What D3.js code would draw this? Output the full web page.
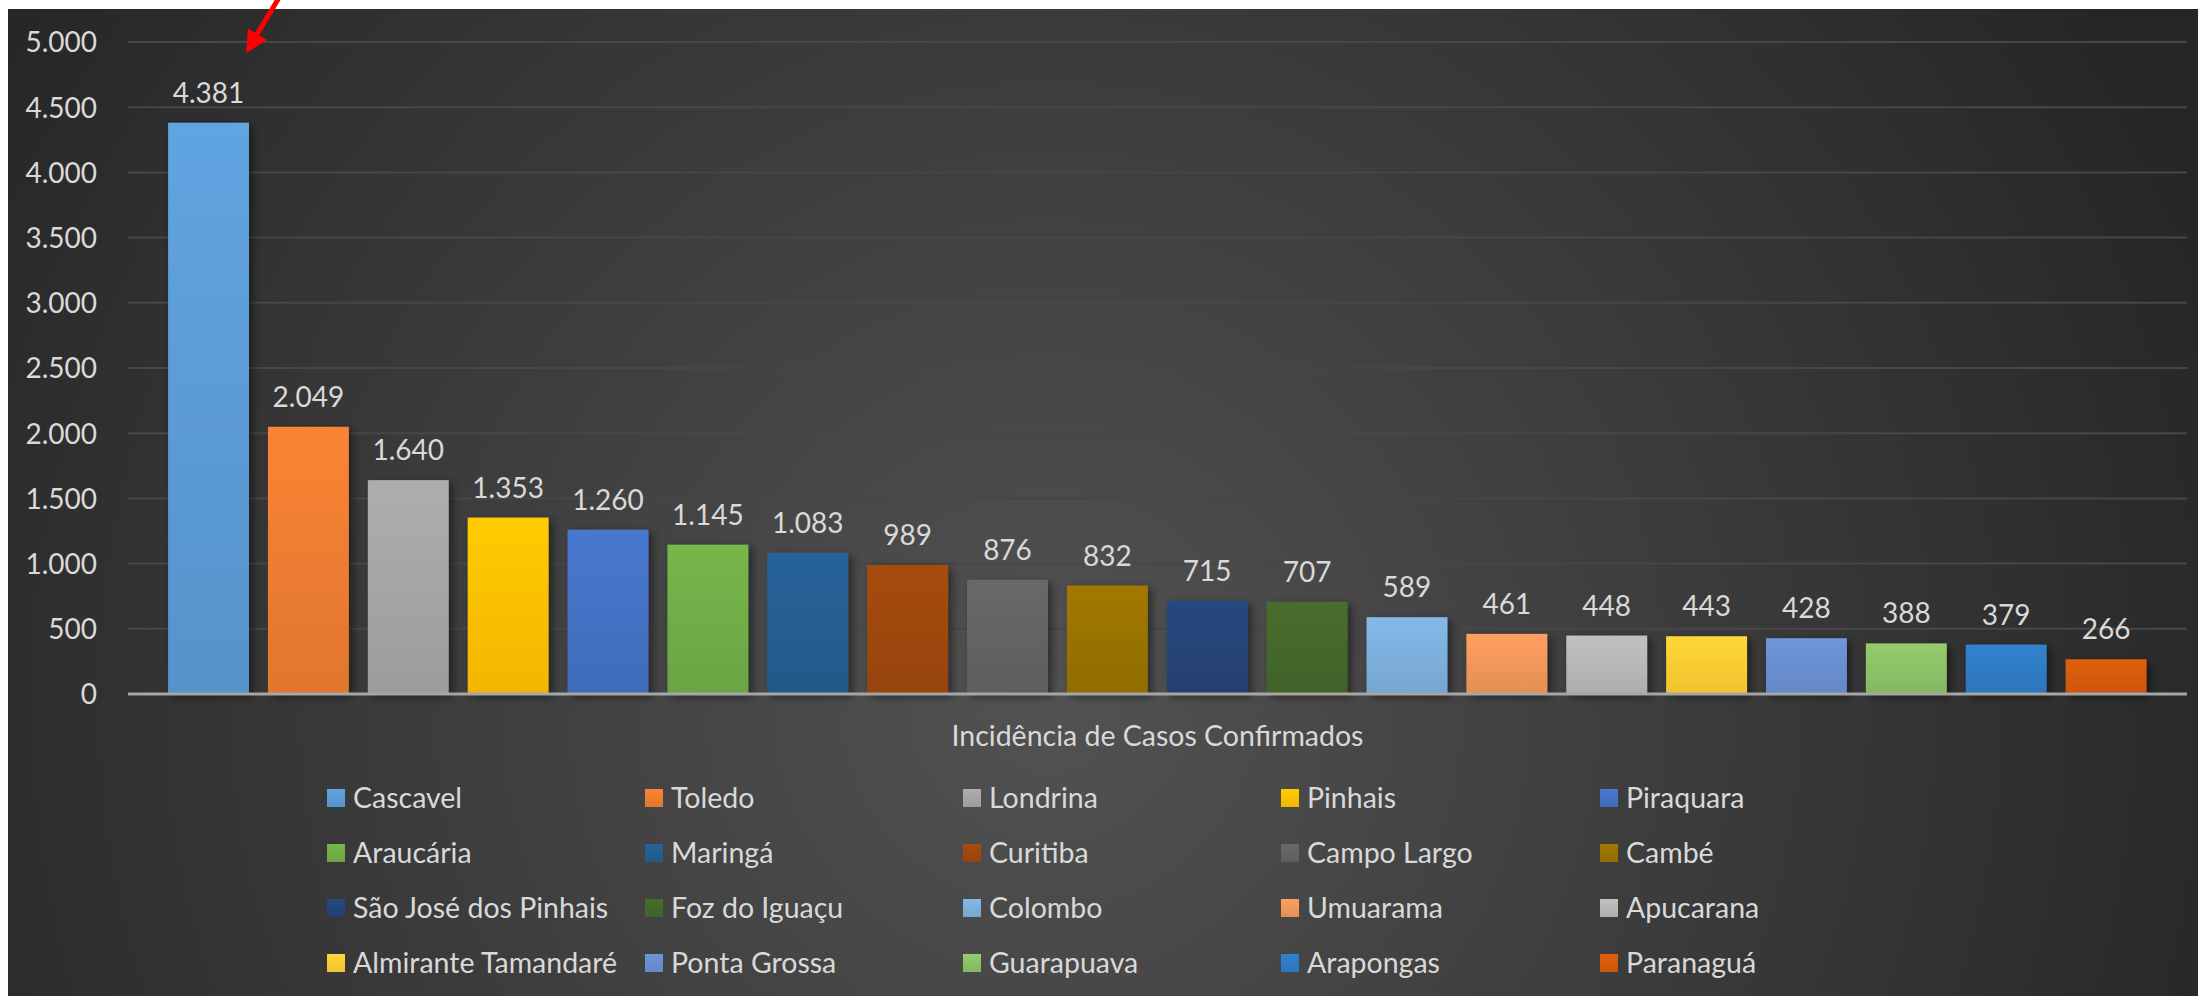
<!DOCTYPE html>
<html><head><meta charset="utf-8">
<script src="https://cdn.jsdelivr.net/npm/d3@7"></script>
<style>
html,body{margin:0;padding:0;background:#fff;}
svg{display:block;}
text{font-family:Lato, "Open Sans", sans-serif;}
</style></head>
<body>
<svg id="chart" width="2198" height="996"></svg>
<script>
const cities = ["Cascavel","Toledo","Londrina","Pinhais","Piraquara","Araucária","Maringá","Curitiba","Campo Largo","Cambé","São José dos Pinhais","Foz do Iguaçu","Colombo","Umuarama","Apucarana","Almirante Tamandaré","Ponta Grossa","Guarapuava","Arapongas","Paranaguá"];
const values = [4381,2049,1640,1353,1260,1145,1083,989,876,832,715,707,589,461,448,443,428,388,379,266];
const colors = ["#5B9BD5","#ED7D31","#A5A5A5","#FFC000","#4472C4","#70AD47","#255E91","#9E480E","#636363","#997300","#264478","#43682B","#7CAFDD","#F1975A","#B7B7B7","#FFCD33","#698ED0","#8CC168","#2E7BC4","#D65A0A"];
const yTicks = [0,500,1000,1500,2000,2500,3000,3500,4000,4500,5000];
const axisTitle = "Incidência de Casos Confirmados";

const W = 2198, H = 996;
const svg = d3.select("#chart");
const defs = svg.append("defs");

// background
const bg = defs.append("radialGradient").attr("id","bg")
  .attr("gradientUnits","userSpaceOnUse").attr("cx",1050).attr("cy",700).attr("r",1250);
bg.append("stop").attr("offset","0").attr("stop-color","#525252");
bg.append("stop").attr("offset","0.55").attr("stop-color","#3a3a3a");
bg.append("stop").attr("offset","1").attr("stop-color","#262626");
svg.append("rect").attr("x",8).attr("y",9).attr("width",W-8).attr("height",H-9).attr("fill","url(#bg)");

const shadow = defs.append("filter").attr("id","shadow").attr("x","-20%").attr("y","-20%").attr("width","150%").attr("height","150%");
shadow.append("feDropShadow").attr("dx",4).attr("dy",3).attr("stdDeviation",4).attr("flood-color","#000").attr("flood-opacity",0.45);

colors.forEach((c,i)=>{
  const g = defs.append("linearGradient").attr("id","g"+i).attr("x1",0).attr("y1",0).attr("x2",0).attr("y2",1);
  g.append("stop").attr("offset","0").attr("stop-color", d3.color(c).brighter(0.15).formatHex());
  g.append("stop").attr("offset","1").attr("stop-color", d3.color(c).darker(0.15).formatHex());
});

const plotL = 128, plotR = 2187;
const x = d3.scaleBand().domain(cities).range([158.6, 2156]).paddingInner(0.19).paddingOuter(0.095);
const y = d3.scaleLinear().domain([0,5000]).range([694, 42]);
const loc = d3.formatLocale({decimal:",", thousands:".", grouping:[3], currency:["R$",""]});
const fmt = loc.format(",");

// gridlines
svg.append("g").selectAll("line").data(yTicks.filter(d=>d>0)).join("line")
  .attr("x1",plotL).attr("x2",plotR).attr("y1",d=>y(d)).attr("y2",d=>y(d))
  .attr("stroke","#474747").attr("stroke-width",2);

// y axis labels
const yAxis = svg.append("g").attr("transform","translate(97,0)")
  .call(d3.axisLeft(y).tickValues(yTicks).tickFormat(fmt).tickSize(0).tickPadding(0));
yAxis.select(".domain").remove();
yAxis.selectAll("text").attr("fill","#d9d9d9").style("font-size","28px").style("font-family","Lato").attr("dy","0.35em");

// bars
svg.append("g").selectAll("rect").data(cities).join("rect")
  .attr("x",d=>x(d)).attr("width",x.bandwidth())
  .attr("y",(d,i)=>y(values[i])).attr("height",(d,i)=>y(0)-y(values[i]))
  .attr("fill",(d,i)=>"url(#g"+i+")").attr("filter","url(#shadow)");

// baseline
svg.append("line").attr("x1",plotL).attr("x2",plotR).attr("y1",y(0)).attr("y2",y(0))
  .attr("stroke","#a6a6a6").attr("stroke-width",3);

// data labels
svg.append("g").selectAll("text").data(cities).join("text")
  .attr("x",d=>x(d)+x.bandwidth()/2).attr("y",(d,i)=>y(values[i])-20)
  .attr("text-anchor","middle").attr("fill","#d9d9d9").style("font-size","28px")
  .text((d,i)=>fmt(values[i]));

// axis title
svg.append("text").attr("x",(plotL+plotR)/2).attr("y",746).attr("text-anchor","middle")
  .attr("fill","#d9d9d9").style("font-size","28.5px").text(axisTitle);

// legend
const colX = [327,645,963,1281,1600];
const rowY = [798,853,908,963];
const lg = svg.append("g").selectAll("g").data(cities).join("g")
  .attr("transform",(d,i)=>`translate(${colX[i%5]},${rowY[Math.floor(i/5)]})`);
lg.append("rect").attr("x",0).attr("y",-9).attr("width",18).attr("height",18).attr("fill",(d,i)=>"url(#g"+i+")");
lg.append("text").attr("x",26).attr("dy","0.35em").attr("fill","#d9d9d9").style("font-size","28.5px").text(d=>d);

// red arrow
svg.append("line").attr("x1",280).attr("y1",-4).attr("x2",256).attr("y2",36)
  .attr("stroke","#ff0000").attr("stroke-width",5);
svg.append("polygon").attr("points","246,53 248,28.5 267,40").attr("fill","#ff0000");
</script>
</body></html>
